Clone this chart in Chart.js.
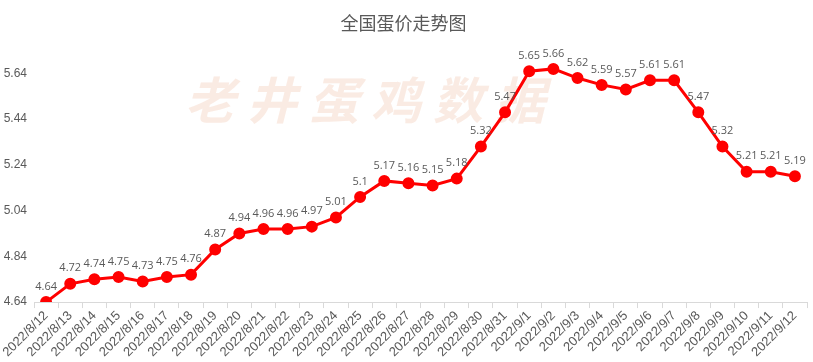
<!DOCTYPE html>
<html><head><meta charset="utf-8">
<script src="https://cdn.jsdelivr.net/npm/chart.js@4/dist/chart.umd.min.js"></script>
<style>html,body{margin:0;padding:0;background:#fff}#wrap{width:813px;height:362px}</style>
</head><body><div id="wrap"><canvas id="c"></canvas></div>
<script>
const categories = ["2022/8/12","2022/8/13","2022/8/14","2022/8/15","2022/8/16","2022/8/17","2022/8/18","2022/8/19","2022/8/20","2022/8/21","2022/8/22","2022/8/23","2022/8/24","2022/8/25","2022/8/26","2022/8/27","2022/8/28","2022/8/29","2022/8/30","2022/8/31","2022/9/1","2022/9/2","2022/9/3","2022/9/4","2022/9/5","2022/9/6","2022/9/7","2022/9/8","2022/9/9","2022/9/10","2022/9/11","2022/9/12"];
const prices = [4.64,4.72,4.74,4.75,4.73,4.75,4.76,4.87,4.94,4.96,4.96,4.97,5.01,5.1,5.17,5.16,5.15,5.18,5.32,5.47,5.65,5.66,5.62,5.59,5.57,5.61,5.61,5.47,5.32,5.21,5.21,5.19];
const yTicks = [4.64,4.84,5.04,5.24,5.44,5.64];
const titleText = "全国蛋价走势图";
const watermarkText = "老井蛋鸡数据";

const watermark = {
  id:'watermark',
  beforeDatasetsDraw(chart){
    const {ctx} = chart;
    ctx.save();
    ctx.font = 'italic bold 50px "Noto Sans CJK SC"';
    ctx.fillStyle = 'rgba(246,222,208,0.6)';
    ctx.textAlign = 'center'; ctx.textBaseline = 'middle';
    const cx = 365, cy = 100;
    const chars = [...watermarkText];
    const gap = 62;
    chars.forEach((ch,i)=>{ ctx.fillText(ch, cx + (i-(chars.length-1)/2)*gap, cy); });
    ctx.restore();
  }
};
const labels = {
  id:'pointLabels',
  afterDatasetsDraw(chart){
    const {ctx} = chart;
    const meta = chart.getDatasetMeta(0);
    ctx.save();
    ctx.font = '11px "Open Sans", sans-serif';
    ctx.fillStyle = '#595959';
    ctx.textAlign = 'center'; ctx.textBaseline = 'bottom';
    meta.data.forEach((p,i)=>{ ctx.fillText(String(prices[i]), p.x, p.y - 10); });
    ctx.restore();
  }
};

new Chart(document.getElementById('c'), {
  type:'line',
  data:{ labels: categories, datasets:[{ data: prices, borderColor:'#ff0000', backgroundColor:'#ff0000', borderWidth:3, pointRadius:4.5, pointHoverRadius:4.5, tension:0 }]},
  options:{
    responsive:true, maintainAspectRatio:false, animation:false,
    layout:{ autoPadding:false, padding:{ left:0, right:6, top:6, bottom:2 } },
    plugins:{
      legend:{display:false}, tooltip:{enabled:false},
      title:{ display:true, text:titleText, color:'#595959', font:{ family:'"Noto Sans CJK SC"', size:18, weight:'normal' }, padding:{top:6,bottom:17} }
    },
    scales:{
      x:{ offset:true,
        grid:{ display:true, drawOnChartArea:false, drawTicks:true, tickLength:6, color:'#d9d9d9', offset:true },
        border:{ display:true, color:'#d9d9d9' },
        ticks:{ color:'#595959', minRotation:45, maxRotation:45, autoSkip:false, padding:0, font:{ family:'"Liberation Sans Narrow", sans-serif', size:13 } }
      },
      y:{ min:4.64, max:5.74,
        grid:{ display:false, drawTicks:false }, border:{ display:false },
        afterBuildTicks(axis){ axis.ticks = yTicks.map(v=>({value:v})); },
        afterFit(axis){ axis.width = 34; },
        ticks:{ color:'#595959', padding:7, callback:v=>v.toFixed(2), font:{ family:'"Liberation Sans Narrow", sans-serif', size:12 } }
      }
    }
  },
  plugins:[watermark, labels]
});
</script></body></html>
